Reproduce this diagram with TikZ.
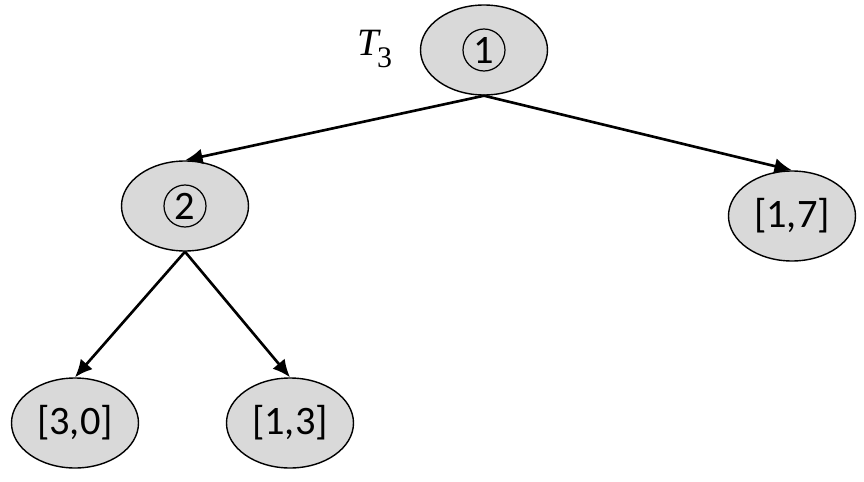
\documentclass[tikz,border=0pt]{standalone}
\usepackage{fontspec}
\setmainfont{Carlito}
\newfontfamily\timesfont{Liberation Serif}
\usepackage{tikz}
\usetikzlibrary{shapes.geometric}
\usetikzlibrary{arrows.meta}
\tikzstyle{vertex}=[draw, ellipse, fill=black!15, line width=0.8pt, inner sep=0pt, minimum width=2.54cm, minimum height=1.8cm, font=\fontsize{23}{28}\selectfont]
\tikzstyle{leaf}=[vertex]
\tikzstyle{inner}=[vertex]
\tikzstyle{ring}=[line width=0.7pt]
\tikzstyle{edge}=[line width=1.5pt, -{Latex[length=10pt, width=9pt]}]

\begin{document}
\begin{tikzpicture}
        \useasboundingbox (0, 0) rectangle (17.28, -9.64);
        \node[inner]                (root) at (9.68, -1.0) {1};
        \node[inner]                (n2) at (3.70, -4.12) {2};
        \node[leaf]                 (l17) at (15.84, -4.32) {[1,7]};
        \node[leaf]                 (l30) at (1.50, -8.46) {[3,0]};
        \node[leaf]                 (l13) at (5.80, -8.46) {[1,3]};
        \node[font=\timesfont\fontsize{22}{26}\selectfont] (tname) at (7.50, -0.98)
            {\textit{T}\kern-0.12em\raisebox{-0.3em}{\fontsize{17}{20}\selectfont 3}};
        % circled numbers
        \draw[ring] (root.center) circle (0.42);
        \draw[ring] (n2.center) circle (0.42);
        \draw[edge] (root.south) -- (n2.north);
        \draw[edge] (root.south) -- (l17.north);
        \draw[edge] (n2.south) -- (l30.north);
        \draw[edge] (n2.south) -- (l13.north);
    \end{tikzpicture}
\end{document}
